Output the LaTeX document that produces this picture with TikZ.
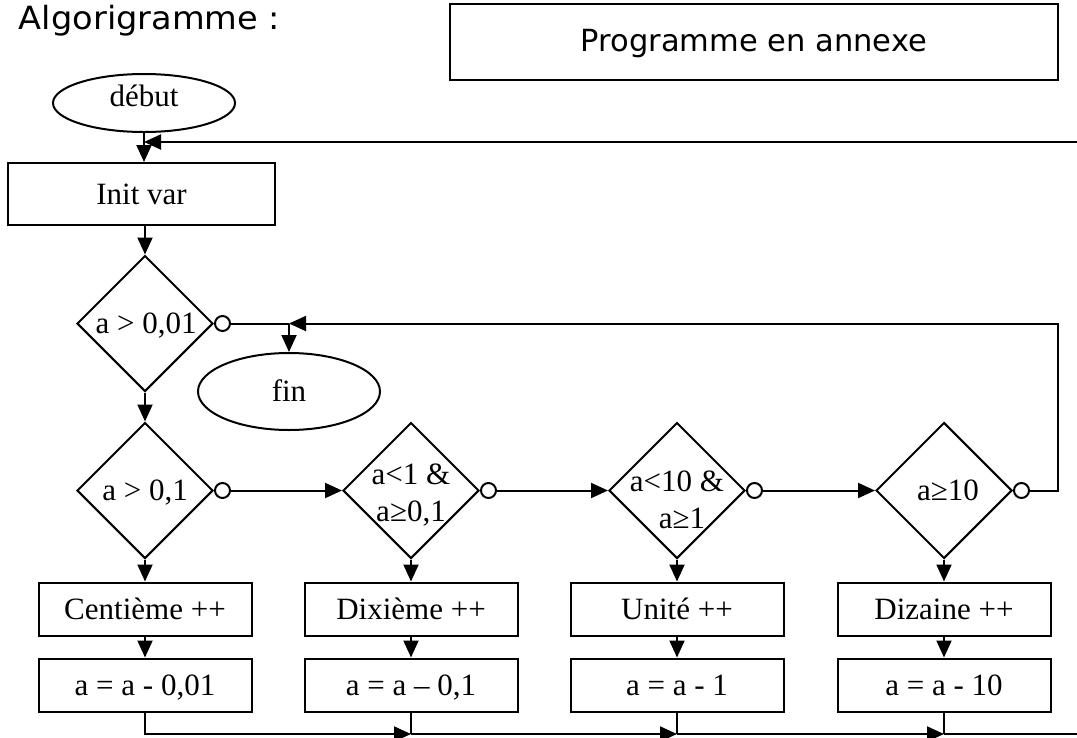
\documentclass[tikz,border=0pt]{standalone}
\usepackage{fontspec}
\setmainfont{Liberation Serif}
\newfontfamily\headfont[FakeStretch=1.05]{DejaVu Sans}
\newfontfamily\notefont{DejaVu Sans}
\usetikzlibrary{shapes.geometric,arrows.meta}

\begin{document}
\begin{tikzpicture}[x=1pt,y=-1pt,
  line width=2pt,
  every node/.style={font=\fontsize{31}{37}\selectfont},
  arr/.style={-{Triangle[length=17pt,width=15pt]}},
  procbox/.style={draw, rectangle, minimum width=213pt, minimum height=53pt,
    inner sep=0pt, text height=20.5pt, text depth=0pt},
  decision/.style={draw, diamond, minimum width=136pt, minimum height=136pt, inner sep=0pt},
  term/.style={draw, ellipse, inner sep=0pt, minimum width=182pt},
  circ/.style={draw, circle, minimum size=15pt, inner sep=0pt, fill=white},
  lbl/.style={anchor=base, inner sep=0pt, align=center}
]
\useasboundingbox (0,0) rectangle (1077,737);

% headings
\node[anchor=base west, inner sep=0pt, font=\headfont\fontsize{32}{38}\selectfont]
  (title) at (18,29) {Algorigramme :};
\node[draw, minimum width=608pt, minimum height=76pt, inner sep=0pt,
  text height=22pt, text depth=4pt, font=\notefont\fontsize{30.5}{36}\selectfont]
  (prog) at (754,42) {Programme en annexe};

% start / end
\node[term, minimum height=58pt] (debut) at (144,103) {};
\node[lbl] (debutt) at (144,106) {début};
\node[draw, minimum width=267pt, minimum height=62pt, inner sep=0pt,
  text height=20.5pt, text depth=0pt] (init) at (141.5,194) {Init var};
\node[term, minimum height=77pt] (fin) at (289,391.5) {};
\node[lbl] (fint) at (289,401) {fin};

% decisions
\node[decision] (d1) at (145,323.5) {};
\node[decision] (d2) at (145,490.5) {};
\node[decision] (d3) at (411,490.5) {};
\node[decision] (d4) at (677,490.5) {};
\node[decision] (d5) at (944,490.5) {};
\node[lbl] (t1) at (146,333) {a > 0,01};
\node[lbl] (t2) at (145,500) {a > 0,1};
\node[lbl] (t3) at (411,521) {a<1 \&\\a≥0,1};
\node[lbl] (t4) at (677,528) {a<10 \&\\\hspace*{10pt}a≥1};
\node[lbl] (t5) at (948,500) {a≥10};

% "no" outputs
\node[circ, anchor=west] (c1) at (d1.east) {};
\node[circ, anchor=west] (c2) at (d2.east) {};
\node[circ, anchor=west] (c3) at (d3.east) {};
\node[circ, anchor=west] (c4) at (d4.east) {};
\node[circ, anchor=west] (c5) at (d5.east) {};

% counters and updates
\node[procbox] (p1) at (145,609) {Centième ++};
\node[procbox] (p2) at (411,609) {Dixième ++};
\node[procbox] (p3) at (677,609) {Unité ++};
\node[procbox] (p4) at (944,609) {Dizaine ++};
\node[procbox] (s1) at (145,685) {a = a - 0,01};
\node[procbox] (s2) at (411,685) {a = a – 0,1};
\node[procbox] (s3) at (677,685) {a = a - 1};
\node[procbox] (s4) at (944,685) {a = a - 10};

% junction points
\coordinate (loopin) at (1077,142);
\coordinate (jtop) at (debut.south |- loopin);
\coordinate (jfin) at (fin.north |- d1.east);
\coordinate (rt) at (1058,323.5);
\coordinate (b2) at (411,734);
\coordinate (b3) at (677,734);
\coordinate (b4) at (944,734);
\coordinate (bend) at (1077,734);

% main column
\draw[arr] (debut.south) -- (debut.south |- init.north);
\draw[arr] (loopin) -- (jtop);
\draw[arr] (d1.north |- init.south) -- (d1.north);
\draw[arr] (d1.south) -- (d2.north);

% exit towards fin
\draw (c1.east) -- (jfin);
\draw[arr] (jfin) -- (fin.north);
\draw[arr] (c5.east) -| (rt) -- (jfin);

% chain of tests
\draw[arr] (c2.east) -- (d3.west);
\draw[arr] (c3.east) -- (d4.west);
\draw[arr] (c4.east) -- (d5.west);

% branches
\foreach \d/\p/\s in {d2/p1/s1, d3/p2/s2, d4/p3/s3, d5/p4/s4}{
  \draw[arr] (\d.south) -- (\p.north);
  \draw[arr] (\p.south) -- (\s.north);
}

% collecting line
\draw[arr] (s1.south) |- (b2);
\draw (s2.south) -- (b2);
\draw[arr] (b2) -- (b3);
\draw (s3.south) -- (b3);
\draw[arr] (b3) -- (b4);
\draw (s4.south) -- (b4);
\draw (b4) -- (bend);
\end{tikzpicture}
\end{document}
